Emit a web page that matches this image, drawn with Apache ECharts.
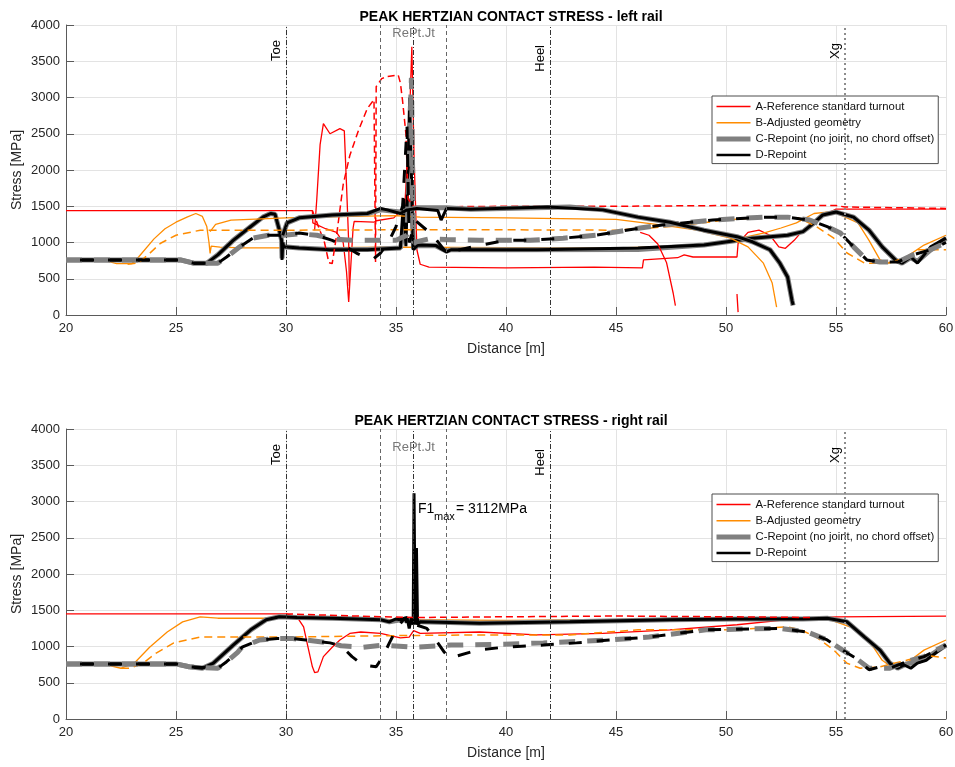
<!DOCTYPE html>
<html>
<head>
    <meta charset="UTF-8">
    <title>Peak Hertzian contact stress</title>
    <script src="https://cdn.jsdelivr.net/npm/echarts/dist/echarts.min.js"></script>
</head>
<body style="margin:0">
<div id="stress" style="width:955px;height:767px;"></div>
<script type="text/javascript">

    // legend names
    var nameA = 'A-Reference standard turnout';
    var nameB = 'B-Adjusted geometry';
    var nameC = 'C-Repoint (no joint, no chord offset)';
    var nameD = 'D-Repoint';

    // vertical markers [x position, label]
    var markerX = [30, 34.3, 35.8, 37.3, 42, 55.4];
    var markerText = ['Toe', '', '', '', 'Heel', 'Xg'];

    // ---------- left rail (top plot), [distance m, stress MPa] ----------
    var leftA_solid = [[20,1440],[31.2,1440],[31.22,1270],[31.8,1190],[32.3,1140],[32.6,1000],[32.75,600],[32.85,180],[32.95,700],[33.05,1200],[33.1,1290],[34.0,1280],[34.1,1300],[34.9,1340],[35.4,1500],[35.6,2600],[35.72,3700],[35.82,2200],[35.95,900],[36.1,700],[36.5,660],[40,650],[44,660],[46.2,650],[46.25,760],[47.8,790],[48.1,830],[48.5,800],[50.5,800],[50.55,990],[51,1140],[51.5,1170],[52,1100],[52.4,940],[52.7,920],[53.1,1030],[53.5,1170],[54.0,1300],[54.6,1400],[55,1460],[60,1460]];
    var leftA_spike = [[31.3,1170],[31.4,1600],[31.55,2350],[31.7,2640],[32.0,2500],[32.45,2570],[32.65,2540],[32.75,1800],[32.85,1000],[32.88,400]];
    var leftA_tail1 = [[46.1,1140],[46.5,1100],[46.9,980],[47.3,720],[47.6,300],[47.7,130]];
    var leftA_tail2 = [[50.5,290],[50.55,40]];
    var leftA_dash = [[31.2,1440],[31.75,1000],[31.95,720],[32.1,710],[32.3,1100],[32.6,1800],[32.9,2200],[33.3,2550],[33.7,2850],[34.0,2970],[34.06,2990],[34.07,730],[34.1,3150],[34.35,3260],[34.6,3290],[35.1,3310],[35.2,3200],[35.3,2950],[35.45,2500],[35.55,1600],[35.8,1500],[36,1490],[40,1500],[45,1500],[50,1510],[55,1510],[55.4,1490],[60,1470]];

    var leftB_solid = [[20,750],[21.8,750],[22.3,710],[23.0,710],[23.3,800],[24,1050],[24.5,1190],[25,1280],[25.5,1350],[25.9,1400],[26.2,1360],[26.4,1220],[26.5,1000],[26.55,850],[26.6,950],[27,935],[28,925],[30,925],[35,935],[40,930],[45,925],[47,940],[48.7,965],[50.2,1030],[51.7,1130],[52.5,1200],[53.2,1270],[54,1400],[54.6,1420],[55.05,1400],[56,1270],[56.5,1030],[57,760],[57.4,715],[58,760],[59,965],[60,1100]];
    var leftB_upper = [[26.55,1150],[26.8,1250],[27.5,1310],[30,1340],[33,1360],[35,1370],[36.1,1350],[40,1340],[45,1320],[47.1,1240],[48.7,1170],[50.2,1060],[51,940],[51.7,715],[52.1,440],[52.3,110]];
    var leftB_dash = [[22.8,700],[23.3,720],[23.8,850],[24.3,990],[25,1100],[26.1,1170],[27.5,1170],[30,1170],[35,1175],[40,1175],[45,1170],[47.5,1220],[50,1310],[51.8,1350],[53.3,1340],[54.1,1220],[54.9,1060],[55.5,855],[56.3,715],[57.3,715],[58.2,790],[58.7,900],[60,900]];

    var leftC_solid = [[20,760],[25.2,760],[25.8,715],[26.4,715],[26.9,830],[27.6,1030],[28.4,1220],[28.95,1350],[29.3,1400],[29.5,1390],[29.7,1170],[29.8,1030],[29.82,780],[29.85,1000],[29.9,940],[30.6,925],[32,905],[33.7,905],[35.2,925],[35.5,1400],[35.7,1600],[35.8,920],[36,960],[36.8,955],[37.3,880],[37.5,900],[40,900],[46,905],[49,965],[51.2,1060],[52.8,1100],[53.5,1150],[54,1270],[54.4,1380],[55,1420],[55.8,1350],[56.5,1170],[57.1,940],[57.7,760],[58,715],[58.4,790],[58.7,740],[59.3,900],[60,1060]];
    var leftC_upper = [[29.85,1100],[30.05,1270],[30.6,1340],[32.1,1380],[33.7,1400],[34.3,1450],[35.2,1420],[35.95,1480],[37.3,1480],[38.4,1460],[42.9,1490],[44.4,1450],[46,1350],[47.45,1280],[49,1170],[50.5,1080],[51.2,1010],[52,900],[52.45,715],[52.8,525],[53,200],[53.05,130]];
    var leftC_dash = [[20,760],[25.2,760],[25.8,715],[26.9,715],[27.3,800],[27.9,940],[28.5,1060],[29.2,1100],[29.9,1100],[30.6,1120],[31.4,1100],[32.1,1050],[33.0,1030],[34,1030],[35,1030],[35.5,1100],[35.7,3270],[35.8,1000],[36.5,1050],[37.3,1040],[38.8,1030],[40,1030],[41.1,1030],[42.6,1060],[44.1,1100],[46.1,1200],[47.1,1240],[49.4,1310],[51.7,1350],[52.8,1350],[53.8,1310],[54.6,1220],[55.2,1130],[55.8,940],[56.4,760],[57,730],[57.8,730],[58.5,830],[59.3,900],[60,1000]];

    var leftD_solid = [[20,760],[25.2,760],[25.8,715],[26.4,715],[26.9,830],[27.6,1030],[28.4,1220],[28.95,1350],[29.3,1400],[29.5,1390],[29.7,1170],[29.8,1030],[29.82,760],[29.85,1000],[29.9,940],[30.6,925],[32,900],[33.7,900],[35.2,925],[35.35,1600],[35.45,950],[35.55,2000],[35.62,3000],[35.7,3000],[35.78,900],[36,965],[36.8,960],[37.3,870],[37.5,900],[41.4,900],[46,925],[49,965],[51.2,1060],[52.8,1100],[53.5,1150],[54,1270],[54.4,1380],[55,1420],[55.8,1350],[56.5,1170],[57.1,940],[57.7,760],[58,715],[58.4,800],[58.7,715],[59.3,940],[60,1060]];
    var leftD_upper = [[29.85,1100],[30.05,1270],[30.6,1340],[32.1,1380],[33.7,1400],[34.3,1470],[34.6,1450],[35.2,1400],[35.5,1450],[35.95,1470],[36.9,1440],[37.05,1310],[37.3,1470],[38.4,1460],[41.9,1490],[44.4,1450],[46,1350],[47.45,1280],[49,1170],[50.5,1080],[51.2,1010],[52,900],[52.45,715],[52.8,525],[53,200],[53.05,140]];
    var leftD_dash = [[20,760],[25.2,760],[25.8,715],[26.9,715],[27.3,800],[27.9,940],[28.5,1060],[29.2,1100],[29.9,1100],[30.6,1130],[31.4,1100],[32.1,1030],[32.6,965],[33.2,855],[33.6,800],[34.0,780],[34.3,855],[34.7,1030],[35.0,1220],[35.3,1500],[35.5,2600],[35.6,1000],[35.9,1300],[36.4,1170],[36.85,1030],[37.3,855],[37.9,900],[38.8,960],[40,1030],[41.1,1030],[42.6,1060],[44.1,1100],[46.1,1200],[47.1,1240],[49.4,1310],[51.7,1350],[52.8,1350],[53.8,1310],[54.6,1220],[55.2,1130],[55.8,940],[56.4,760],[57,730],[57.8,730],[58.5,830],[59.3,900],[60,1000]];

    // ---------- right rail (bottom plot) ----------
    var rightA_solid = [[20,1450],[30,1450],[30.5,1410],[30.8,1270],[31.0,990],[31.2,720],[31.3,640],[31.45,650],[31.7,860],[32.1,990],[32.45,1090],[32.9,1180],[33.4,1200],[34.3,1180],[35.2,1120],[35.6,1130],[35.8,1220],[36.1,1180],[38.8,1200],[41.4,1160],[44.4,1180],[47.45,1230],[50.5,1300],[52.8,1370],[55,1410],[60,1420]];
    var rightA_dash = [[30,1450],[34.3,1410],[36,1400],[40,1410],[45,1420],[50,1410],[54,1400]];

    var rightB_solid = [[20,750],[21.8,750],[22.5,700],[23.1,770],[23.8,990],[24.6,1200],[25.3,1340],[26.1,1410],[26.9,1390],[28.4,1390],[30,1390],[35,1370],[40,1360],[45,1370],[50,1380],[54.6,1380],[55.2,1320],[56,1230],[56.7,990],[57.1,810],[57.6,700],[58.2,770],[59,950],[60,1090]];
    var rightB_dash = [[22.5,700],[22.9,700],[23.5,770],[24.1,910],[24.9,1050],[26.1,1130],[30,1130],[35,1150],[38.8,1160],[42.9,1160],[46,1230],[50,1230],[52.8,1270],[53.4,1230],[54.1,1130],[54.9,950],[55.5,770],[56.1,700],[57,720],[58.2,810],[59.1,880],[60,840]];

    var rightC_solid = [[20,760],[25,760],[25.6,720],[26.2,700],[26.7,770],[27.6,1020],[28.4,1230],[29.1,1370],[29.7,1410],[30.5,1400],[32.1,1390],[34.3,1370],[34.7,1340],[35.2,1370],[35.8,1350],[36.1,1340],[38.8,1320],[42.9,1340],[47.45,1370],[50.5,1380],[53.5,1380],[54.6,1390],[55.5,1340],[56.3,1130],[57,950],[57.45,770],[57.8,700],[58.2,760],[58.6,780],[59.1,840],[60,1020]];
    var rightC_dash = [[20,760],[25,760],[25.6,720],[26.9,700],[27.3,790],[27.8,920],[28.0,990],[28.8,1090],[29.6,1110],[30.3,1110],[30.9,1090],[32,1050],[32.5,1010],[33.5,990],[34.4,1020],[35.8,990],[37.5,1020],[38.0,1020],[39.9,1030],[41.7,1050],[43.2,1070],[44.7,1090],[46.5,1130],[49.1,1230],[52.45,1250],[53.7,1200],[54.6,1090],[55.3,950],[55.9,840],[56.5,700],[57,700],[57.45,700],[58.2,790],[59,860],[60,1020]];

    var rightD_solid = [[20,760],[25,760],[25.6,720],[26.2,700],[26.7,770],[27.6,1020],[28.4,1230],[29.1,1370],[29.7,1410],[30.5,1400],[32.1,1390],[34.3,1370],[34.7,1340],[35.0,1380],[35.2,1370],[35.5,1400],[35.6,1250],[35.7,1400],[35.78,1300],[35.82,3112],[35.87,1300],[35.93,2360],[35.98,1300],[36.1,1340],[38.8,1320],[42.9,1340],[47.45,1370],[50.5,1380],[53.5,1380],[54.6,1390],[55.5,1340],[56.3,1130],[57,950],[57.45,770],[57.8,700],[58.1,745],[58.4,700],[58.7,770],[59.1,810],[60,1020]];
    var rightD_dash = [[20,760],[25,760],[25.6,720],[26.9,700],[27.3,790],[27.8,920],[28.0,990],[28.8,1090],[29.6,1110],[30.3,1110],[30.9,1090],[32,1050],[32.5,1010],[33.0,860],[33.5,745],[34.1,720],[34.4,860],[34.7,1050],[35.0,1230],[35.4,1400],[35.6,1250],[35.9,1300],[36.4,1250],[36.9,1050],[37.2,920],[37.45,840],[38.7,950],[39.9,990],[41.7,1020],[43.2,1050],[44.7,1090],[46.5,1130],[49.1,1230],[52.45,1250],[53.7,1200],[54.6,1090],[55.3,950],[55.9,840],[56.5,680],[57,720],[57.45,700],[58.2,790],[59,860],[60,1020]];

    var font = "'Liberation Sans', Arial, sans-serif";
    var RED = '#ff0000', ORANGE = '#ff8c00', GRAY = '#808080', BLACK = '#000000';

    function line(name, data, g, color, width, type, dashOffset) {
        return {
            name: name, type: 'line', xAxisIndex: g, yAxisIndex: g, data: data,
            symbol: 'none', showSymbol: false, silent: true, animation: false,
            itemStyle: {color: color},
            lineStyle: {color: color, width: width, type: type || 'solid', dashOffset: dashOffset || 0},
            emphasis: {disabled: true}
        };
    }

    function markers(g) {
        return markerX.map(function (x, i) {
            var st, gap = 15;
            if (x === 55.4) { st = {color: '#8c8c8c', width: 2, type: [2, 3]}; gap = 18; }
            else if (x === 34.3 || x === 37.3) st = {color: '#666', width: 1, type: [4, 3]};
            else st = {color: '#333', width: 1, type: [5, 2, 1, 2]};
            if (x === 42) gap = 20;
            return {
                xAxis: x, lineStyle: st,
                label: markerText[i] ? {
                    show: true, formatter: markerText[i], position: 'insideEndTop',
                    distance: [gap, 3], color: '#000', fontSize: 13, fontFamily: font
                } : {show: false}
            };
        });
    }

    function seriesFor(g, d) {
        var s = [];
        var first = line(nameA, d.A[0], g, RED, 1.3);
        first.markLine = {symbol: ['none', 'none'], silent: true, animation: false, data: markers(g)};
        s.push(first);
        s.push(line(nameB, d.B[0], g, ORANGE, 1.3));
        s.push(line(nameC, d.C[0], g, GRAY, 5));
        s.push(line(nameD, d.D[0], g, BLACK, 3));
        d.A.slice(1).forEach(function (a) { s.push(line(nameA, a, g, RED, 1.3)); });
        s.push(line(nameA, d.Ad, g, RED, 1.5, [7, 4]));
        d.B.slice(1).forEach(function (a) { s.push(line(nameB, a, g, ORANGE, 1.3)); });
        s.push(line(nameB, d.Bd, g, ORANGE, 1.5, [8, 5]));
        d.C.slice(1).forEach(function (a) { s.push(line(nameC, a, g, GRAY, 5)); });
        s.push(line(nameC, d.Cd, g, GRAY, 5, [16, 12]));
        d.D.slice(1).forEach(function (a) { s.push(line(nameD, a, g, BLACK, 3)); });
        s.push(line(nameD, d.Dd, g, BLACK, 3, [13, 15], 14));
        return s;
    }

    // solid variants first so the legend takes their style
    var leftSets = {A: [leftA_solid, leftA_spike, leftA_tail1, leftA_tail2], Ad: leftA_dash,
        B: [leftB_solid, leftB_upper], Bd: leftB_dash,
        C: [leftC_solid, leftC_upper], Cd: leftC_dash,
        D: [leftD_solid, leftD_upper], Dd: leftD_dash};
    var rightSets = {A: [rightA_solid], Ad: rightA_dash,
        B: [rightB_solid], Bd: rightB_dash,
        C: [rightC_solid], Cd: rightC_dash,
        D: [rightD_solid], Dd: rightD_dash};

    var allSeries = seriesFor(0, leftSets).concat(seriesFor(1, rightSets));

    function xAx(g) {
        return {
            gridIndex: g, type: 'value', min: 20, max: 60, interval: 5,
            name: 'Distance [m]', nameLocation: 'middle', nameGap: 27,
            nameTextStyle: {fontSize: 14, color: '#262626', fontFamily: font},
            axisLine: {onZero: false, lineStyle: {color: '#5a5a5a'}},
            axisTick: {inside: true, length: 8, lineStyle: {color: '#5a5a5a'}},
            axisLabel: {fontSize: 13, color: '#262626', margin: 7, fontFamily: font,
                formatter: function (v) { return String(v); }},
            splitLine: {show: true, lineStyle: {color: '#e3e3e3'}}
        };
    }

    function yAx(g) {
        return {
            gridIndex: g, type: 'value', min: 0, max: 4000, interval: 500,
            name: 'Stress [MPa]', nameLocation: 'middle', nameGap: 42, nameMoveOverlap: false,
            nameTextStyle: {fontSize: 14, color: '#262626', fontFamily: font},
            axisLine: {show: true, lineStyle: {color: '#5a5a5a'}},
            axisTick: {show: true, inside: true, length: 8, lineStyle: {color: '#5a5a5a'}},
            axisLabel: {fontSize: 13, color: '#262626', margin: 6, fontFamily: font,
                formatter: function (v) { return String(v); }},
            splitLine: {show: true, lineStyle: {color: '#e3e3e3'}}
        };
    }

    function legendAt(top) {
        return {
            orient: 'vertical', left: 712, top: top,
            data: [
                {name: nameA, lineStyle: {width: 1.5, color: RED}},
                {name: nameB, lineStyle: {width: 1.5, color: ORANGE}},
                {name: nameC, lineStyle: {width: 5, color: GRAY}},
                {name: nameD, lineStyle: {width: 2.5, color: BLACK}}
            ],
            itemWidth: 34, itemHeight: 11, itemGap: 5.2,
            padding: [5, 4, 3, 2],
            itemStyle: {opacity: 0},
            backgroundColor: '#ffffff', borderColor: '#4d4d4d', borderWidth: 1,
            textStyle: {fontSize: 11.3, color: '#111', fontFamily: font},
            selectedMode: false
        };
    }

    var myChart = echarts.init(document.getElementById('stress'));

    myChart.setOption({
        animation: false,
        backgroundColor: '#ffffff',
        title: [
            {text: 'PEAK HERTZIAN CONTACT STRESS - left rail', left: 506, top: 5, textAlign: 'center',
                textStyle: {fontSize: 14, fontWeight: 'bold', color: '#000', fontFamily: font}},
            {text: 'PEAK HERTZIAN CONTACT STRESS - right rail', left: 506, top: 409, textAlign: 'center',
                textStyle: {fontSize: 14, fontWeight: 'bold', color: '#000', fontFamily: font}}
        ],
        grid: [
            {left: 66, top: 25, width: 880, height: 290, outerBoundsMode: 'none', containLabel: false},
            {left: 66, top: 429, width: 880, height: 290, outerBoundsMode: 'none', containLabel: false}
        ],
        xAxis: [xAx(0), xAx(1)],
        yAxis: [yAx(0), yAx(1)],
        legend: [legendAt(96), legendAt(494)],
        series: allSeries
    });

    // text annotations anchored to data coordinates
    var jt0 = myChart.convertToPixel({gridIndex: 0}, [35.8, 3890]);
    var jt1 = myChart.convertToPixel({gridIndex: 1}, [35.8, 3750]);
    var f1 = myChart.convertToPixel({gridIndex: 1}, [36.0, 2900]);
    var txt = function (x, y, s, size, color, align) {
        return {type: 'text', x: x, y: y, silent: true, z: 100,
            style: {text: s, fontSize: size, fill: color, fontFamily: font, align: align || 'left', verticalAlign: 'middle'}};
    };
    myChart.setOption({
        graphic: [
            txt(jt0[0], jt0[1], 'RePt.Jt', 13, '#777', 'center'),
            txt(jt1[0], jt1[1], 'RePt.Jt', 13, '#777', 'center'),
            txt(f1[0], f1[1], 'F1', 14, '#000'),
            txt(f1[0] + 16, f1[1] + 8, 'max', 11, '#000'),
            txt(f1[0] + 38, f1[1], '= 3112MPa', 14, '#000')
        ]
    });
</script>
</body>
</html>
